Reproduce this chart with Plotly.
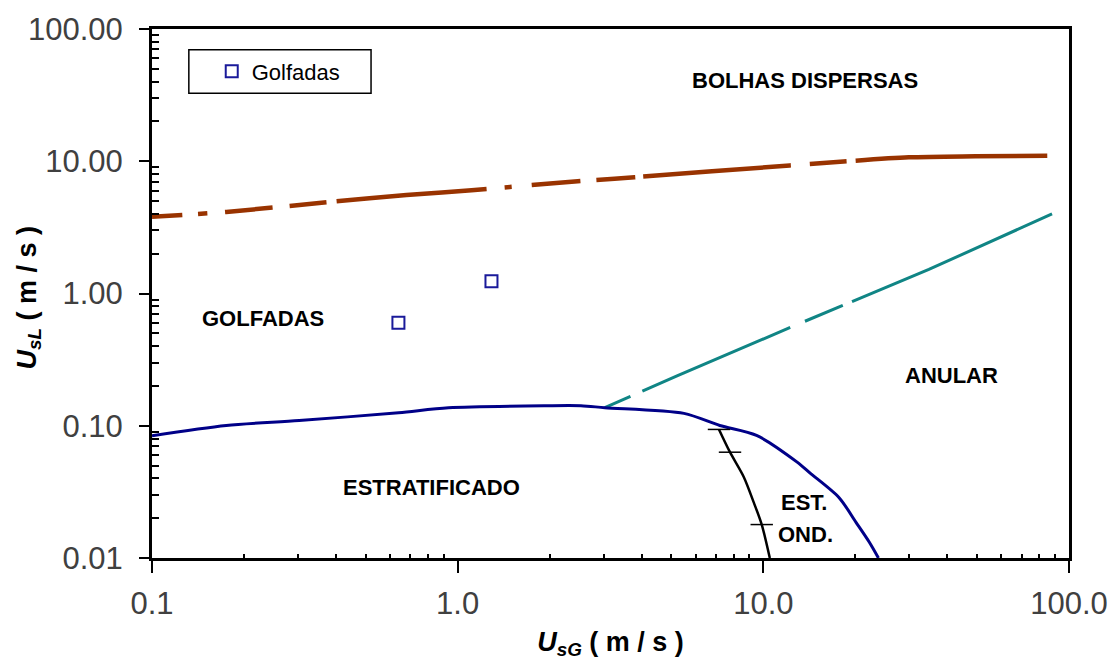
import plotly.graph_objects as go

# ---- data ----
bolhas_x = [0.1, 0.175, 0.41, 0.68, 1.11, 2.47, 3.79, 12.2, 18.3, 29.9, 49.4, 84.9]
bolhas_y = [3.80, 4.14, 5.0, 5.55, 6.04, 7.06, 7.57, 9.3, 9.96, 10.7, 10.9, 11.0]

anular_x = [3.03, 5.22, 12.2, 34.8, 88.0]
anular_y = [0.137, 0.238, 0.552, 1.52, 4.0]

estrat_x = [0.1, 0.175, 0.303, 0.641, 0.933, 1.97, 2.53, 3.03, 5.5, 7.2, 9.5,
            12.9, 14.2, 17.7, 20.1, 22.2, 23.8]
estrat_y = [0.084, 0.1005, 0.1094, 0.1256, 0.1368, 0.1416, 0.1416, 0.137, 0.124,
            0.1005, 0.0846, 0.0531, 0.044, 0.0286, 0.0186, 0.0132, 0.010]

ond_x = [7.16, 7.78, 8.63, 9.31, 9.88, 10.5]
ond_y = [0.0938, 0.0631, 0.041, 0.0262, 0.0179, 0.010]
ond_mark_x = [7.16, 7.78, 9.88]
ond_mark_y = [0.0938, 0.0631, 0.0179]

golf_x = [0.64, 1.29]
golf_y = [0.60, 1.24]

x_ticks = [0.1, 1, 10, 100]
x_ticktext = ["0.1", "1.0", "10.0", "100.0"]
y_ticks = [0.01, 0.1, 1, 10, 100]
y_ticktext = ["0.01", "0.10", "1.00", "10.00", "100.00"]

region_labels = ["BOLHAS DISPERSAS", "GOLFADAS", "ANULAR", "ESTRATIFICADO", "EST.", "OND."]

# ---- figure ----
FONT = "Liberation Sans, Arial, sans-serif"
L, R, T, B = 152, 47, 24, 105
W, H = 1120, 664
PW, PH = W - L - R, H - T - B


def px(xp):
    return (xp - L) / PW


def py(yp):
    return 1 - (yp - T) / PH


fig = go.Figure()

fig.add_trace(go.Scatter(
    x=bolhas_x, y=bolhas_y, mode="lines", showlegend=False,
    line=dict(color="#993300", width=4.5, shape="spline", smoothing=0.8,
              dash="30px,16px,9px,18px,48px,17px,37px,10px,151px,18px,7px,20px,49px,16px,39px,8px,148px,19px,37px,9px,300px"),
    hoverinfo="skip"))

fig.add_trace(go.Scatter(
    x=anular_x, y=anular_y, mode="lines", showlegend=False,
    line=dict(color="#108585", width=3,
              dash="28px,13px,161px,16px,41px,10px,400px"),
    hoverinfo="skip"))

fig.add_trace(go.Scatter(
    x=estrat_x, y=estrat_y, mode="lines", showlegend=False,
    line=dict(color="#000088", width=3, shape="spline", smoothing=0.8),
    hoverinfo="skip"))

fig.add_trace(go.Scatter(
    x=ond_x, y=ond_y, mode="lines", showlegend=False,
    line=dict(color="#000000", width=2.5, shape="spline", smoothing=0.8),
    hoverinfo="skip"))

fig.add_trace(go.Scatter(
    x=ond_mark_x, y=ond_mark_y, mode="markers", showlegend=False,
    marker=dict(symbol="line-ew", size=16, line=dict(color="#000000", width=1.5)),
    hoverinfo="skip"))

fig.add_trace(go.Scatter(
    x=golf_x, y=golf_y, mode="markers", name="Golfadas",
    marker=dict(symbol="square-open", size=12, color="#1a1a9a",
                line=dict(color="#1a1a9a", width=2))))

minor_x = [m * d for d in (0.1, 1, 10) for m in range(2, 10)]
minor_y = [m * d for d in (0.01, 0.1, 1, 10) for m in range(2, 10)]

fig.update_xaxes(
    type="log", range=[-1, 2],
    tickvals=x_ticks, ticktext=x_ticktext,
    ticks="outside", ticklen=12, tickwidth=1.5, tickcolor="#000",
    ticklabelstandoff=4,
    showline=True, linecolor="#000", linewidth=3, mirror=True,
    showgrid=False, zeroline=False,
    tickfont=dict(family=FONT, size=31, color="#404040"),
    minor=dict(tickvals=minor_x, ticks="inside", ticklen=4, tickwidth=1.5,
               tickcolor="#000", showgrid=False),
    title=dict(text="<b><i>U</i></b><sub><b><i>sG</i></b></sub><b> ( m / s )</b>",
               font=dict(family=FONT, size=27, color="#000"), standoff=12),
)
fig.update_yaxes(
    type="log", range=[-2, 2],
    tickvals=y_ticks, ticktext=y_ticktext,
    ticks="outside", ticklen=10, tickwidth=1.5, tickcolor="#000",
    ticklabelstandoff=10,
    showline=True, linecolor="#000", linewidth=3, mirror=True,
    showgrid=False, zeroline=False,
    tickfont=dict(family=FONT, size=31, color="#404040"),
    minor=dict(tickvals=minor_y, ticks="inside", ticklen=7, tickwidth=1.5,
               tickcolor="#000", showgrid=False),
)

# y-axis title as rotated text
fig.add_annotation(x=px(28), y=py(296), xref="paper", yref="paper",
                   text="<b><i>U</i></b><sub><b><i>sL</i></b></sub><b> ( m / s )</b>",
                   showarrow=False, textangle=-90, xanchor="center", yanchor="middle",
                   font=dict(family=FONT, size=27, color="#000"))

label_pos = [(808, 76), (263, 317), (955, 374), (433, 488), (807, 503), (808, 535)]
for txt, (lx, ly) in zip(region_labels, label_pos):
    fig.add_annotation(x=px(lx), y=py(ly), xref="paper", yref="paper",
                       text="<b>" + txt + "</b>", showarrow=False,
                       xanchor="center", yanchor="middle",
                       font=dict(family=FONT, size=22, color="#000"))

# legend frame
fig.add_shape(type="rect", xref="paper", yref="paper",
              x0=px(189), x1=px(372), y0=py(89), y1=py(45),
              line=dict(color="#000", width=1.5), fillcolor="rgba(0,0,0,0)")

fig.update_layout(
    width=W, height=H,
    margin=dict(l=L, r=R, t=T, b=B),
    paper_bgcolor="white", plot_bgcolor="white",
    showlegend=True,
    legend=dict(x=px(212), y=py(67), xanchor="left", yanchor="middle",
                bgcolor="rgba(0,0,0,0)", borderwidth=0,
                font=dict(family=FONT, size=22, color="#000")),
)

fig.write_html("out.html")
